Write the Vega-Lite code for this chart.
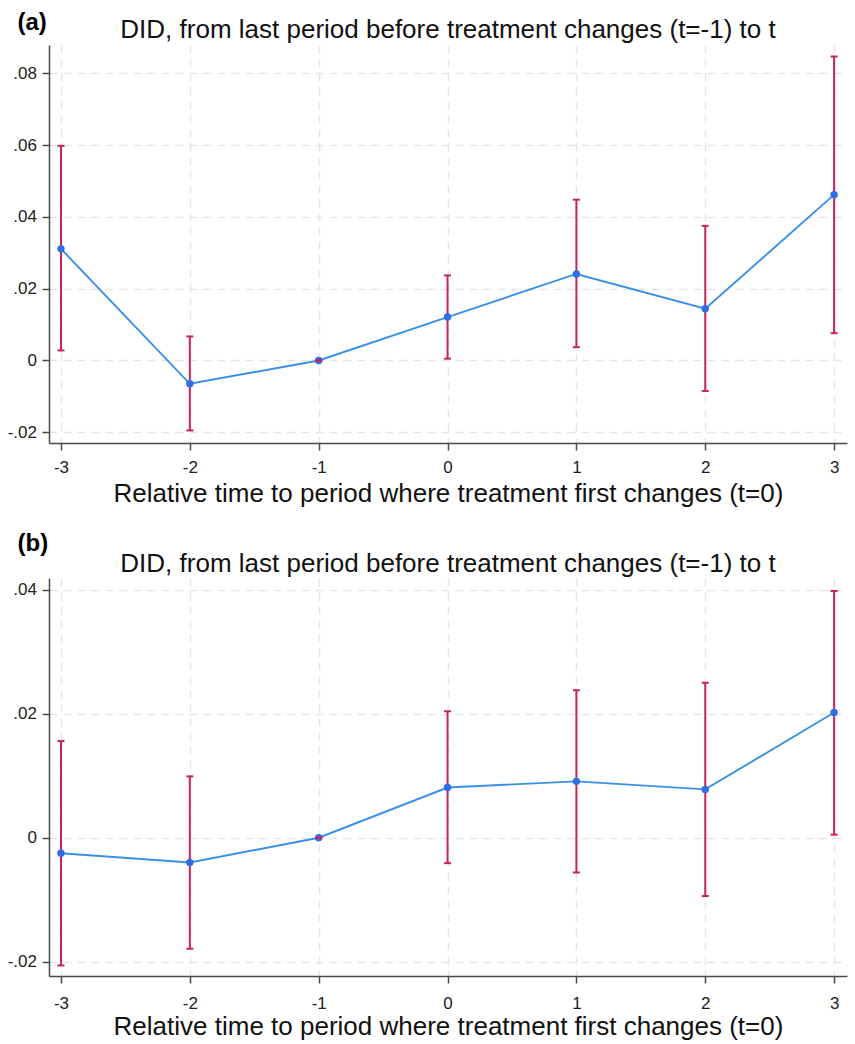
{
  "$schema": "https://vega.github.io/schema/vega-lite/v6.json",
  "background": "white",
  "padding": {"left": 7, "top": 10, "right": 5, "bottom": 5},
  "spacing": 135,
  "bounds": "flush",
  "config": {
    "font": "Liberation Sans",
    "view": {"stroke": null},
    "axis": {
      "domainColor": "#4a4a4a", "domainWidth": 1.5,
      "tickColor": "#4a4a4a", "tickWidth": 1.5, "tickSize": 7,
      "labelFont": "Liberation Sans", "labelFontSize": 17, "labelColor": "#222222",
      "gridColor": "#e6e6e6", "gridDash": [8, 6], "gridWidth": 1.5,
      "titleFont": "Liberation Sans", "titleFontWeight": "normal", "titleColor": "#111111"
    },
    "title": {"font": "Liberation Sans", "fontSize": 26, "fontWeight": "normal", "color": "#111111"}
  },
  "datasets": {
    "did": [
      {"panel": "a", "t": -3, "est": 0.0311, "lo": 0.0028, "hi": 0.0598},
      {"panel": "a", "t": -2, "est": -0.0065, "lo": -0.0195, "hi": 0.0067},
      {"panel": "a", "t": -1, "est": 0.0, "lo": 0.0, "hi": 0.0},
      {"panel": "a", "t": 0, "est": 0.0121, "lo": 0.0005, "hi": 0.0237},
      {"panel": "a", "t": 1, "est": 0.0241, "lo": 0.0037, "hi": 0.0448},
      {"panel": "a", "t": 2, "est": 0.0144, "lo": -0.0085, "hi": 0.0375},
      {"panel": "a", "t": 3, "est": 0.0462, "lo": 0.0076, "hi": 0.0847},
      {"panel": "b", "t": -3, "est": -0.0025, "lo": -0.0206, "hi": 0.0156},
      {"panel": "b", "t": -2, "est": -0.004, "lo": -0.0179, "hi": 0.0099},
      {"panel": "b", "t": -1, "est": 0.0, "lo": 0.0, "hi": 0.0},
      {"panel": "b", "t": 0, "est": 0.0081, "lo": -0.0041, "hi": 0.0204},
      {"panel": "b", "t": 1, "est": 0.0091, "lo": -0.0056, "hi": 0.0238},
      {"panel": "b", "t": 2, "est": 0.0078, "lo": -0.0094, "hi": 0.025},
      {"panel": "b", "t": 3, "est": 0.0202, "lo": 0.0005, "hi": 0.0398}
    ]
  },
  "vconcat": [
    {
      "width": 798, "height": 398,
      "title": {"text": "DID, from last period before treatment changes (t=-1) to t", "anchor": "middle", "frame": "group", "offset": -33},
      "data": {"name": "did"},
      "transform": [{"filter": "datum.panel == 'a'"}],
      "encoding": {
        "x": {"field": "t", "type": "quantitative",
          "scale": {"domain": [-3.093, 3.1], "nice": false, "zero": false},
          "axis": {"values": [-3, -2, -1, 0, 1, 2, 3], "labelExpr": "(datum.value < 0 ? '-' : '') + abs(datum.value)",
            "title": "Relative time to period where treatment first changes (t=0)", "titleFontSize": 26,
            "titleY": 58, "titleBaseline": "alphabetic", "labelPadding": 9}}
      },
      "layer": [
        {"mark": {"type": "rule", "color": "#c8235c", "strokeWidth": 2},
         "encoding": {
           "y": {"field": "lo", "type": "quantitative", "scale": {"domain": [-0.023, 0.0879], "nice": false, "zero": false},
             "axis": {"values": [-0.02, 0, 0.02, 0.04, 0.06, 0.08], "labelPadding": 5.5,
               "labelExpr": "datum.value == 0 ? '0' : (datum.value < 0 ? '-' : '') + replace(format(abs(datum.value), '.2f'), '0.', '.')",
               "title": "(a)", "titleAngle": 0, "titleAlign": "left", "titleBaseline": "alphabetic", "titleX": -32, "titleY": -16,
               "titleFontSize": 24, "titleFontWeight": "bold", "titleColor": "#000000"}},
           "y2": {"field": "hi"}}},
        {"mark": {"type": "line", "color": "#3a8fe8", "strokeWidth": 1.9},
         "encoding": {"y": {"field": "est", "type": "quantitative", "scale": {"domain": [-0.023, 0.0879], "nice": false, "zero": false},
             "axis": {"values": [-0.02, 0, 0.02, 0.04, 0.06, 0.08], "labelPadding": 5.5,
               "labelExpr": "datum.value == 0 ? '0' : (datum.value < 0 ? '-' : '') + replace(format(abs(datum.value), '.2f'), '0.', '.')",
               "title": "(a)", "titleAngle": 0, "titleAlign": "left", "titleBaseline": "alphabetic", "titleX": -32, "titleY": -16,
               "titleFontSize": 24, "titleFontWeight": "bold", "titleColor": "#000000"}}}},
        {"mark": {"type": "circle", "size": 55, "color": "#2e6fe6", "opacity": 1},
         "encoding": {"y": {"field": "est", "type": "quantitative", "scale": {"domain": [-0.023, 0.0879], "nice": false, "zero": false},
             "axis": {"values": [-0.02, 0, 0.02, 0.04, 0.06, 0.08], "labelPadding": 5.5,
               "labelExpr": "datum.value == 0 ? '0' : (datum.value < 0 ? '-' : '') + replace(format(abs(datum.value), '.2f'), '0.', '.')",
               "title": "(a)", "titleAngle": 0, "titleAlign": "left", "titleBaseline": "alphabetic", "titleX": -32, "titleY": -16,
               "titleFontSize": 24, "titleFontWeight": "bold", "titleColor": "#000000"}}}},
        {"mark": {"type": "tick", "orient": "horizontal", "size": 7, "thickness": 2, "color": "#c8235c", "opacity": 1},
         "encoding": {"y": {"field": "lo", "type": "quantitative", "scale": {"domain": [-0.023, 0.0879], "nice": false, "zero": false},
             "axis": {"values": [-0.02, 0, 0.02, 0.04, 0.06, 0.08], "labelPadding": 5.5,
               "labelExpr": "datum.value == 0 ? '0' : (datum.value < 0 ? '-' : '') + replace(format(abs(datum.value), '.2f'), '0.', '.')",
               "title": "(a)", "titleAngle": 0, "titleAlign": "left", "titleBaseline": "alphabetic", "titleX": -32, "titleY": -16,
               "titleFontSize": 24, "titleFontWeight": "bold", "titleColor": "#000000"}}}},
        {"mark": {"type": "tick", "orient": "horizontal", "size": 7, "thickness": 2, "color": "#c8235c", "opacity": 1},
         "encoding": {"y": {"field": "hi", "type": "quantitative", "scale": {"domain": [-0.023, 0.0879], "nice": false, "zero": false},
             "axis": {"values": [-0.02, 0, 0.02, 0.04, 0.06, 0.08], "labelPadding": 5.5,
               "labelExpr": "datum.value == 0 ? '0' : (datum.value < 0 ? '-' : '') + replace(format(abs(datum.value), '.2f'), '0.', '.')",
               "title": "(a)", "titleAngle": 0, "titleAlign": "left", "titleBaseline": "alphabetic", "titleX": -32, "titleY": -16,
               "titleFontSize": 24, "titleFontWeight": "bold", "titleColor": "#000000"}}}}
      ]
    },
    {
      "width": 798, "height": 398,
      "title": {"text": "DID, from last period before treatment changes (t=-1) to t", "anchor": "middle", "frame": "group", "offset": -46},
      "data": {"name": "did"},
      "transform": [{"filter": "datum.panel == 'b'"}],
      "encoding": {
        "x": {"field": "t", "type": "quantitative",
          "scale": {"domain": [-3.093, 3.1], "nice": false, "zero": false},
          "axis": {"values": [-3, -2, -1, 0, 1, 2, 3], "labelExpr": "(datum.value < 0 ? '-' : '') + abs(datum.value)",
            "title": "Relative time to period where treatment first changes (t=0)", "titleFontSize": 26,
            "titleY": 58, "titleBaseline": "alphabetic", "labelPadding": 12}}
      },
      "layer": [
        {"mark": {"type": "rule", "color": "#c8235c", "strokeWidth": 2},
         "encoding": {
           "y": {"field": "lo", "type": "quantitative", "scale": {"domain": [-0.0223, 0.0419], "nice": false, "zero": false},
             "axis": {"values": [-0.02, 0, 0.02, 0.04], "labelPadding": 5.5,
               "labelExpr": "datum.value == 0 ? '0' : (datum.value < 0 ? '-' : '') + replace(format(abs(datum.value), '.2f'), '0.', '.')",
               "title": "(b)", "titleAngle": 0, "titleAlign": "left", "titleBaseline": "alphabetic", "titleX": -32, "titleY": -28,
               "titleFontSize": 24, "titleFontWeight": "bold", "titleColor": "#000000"}},
           "y2": {"field": "hi"}}},
        {"mark": {"type": "line", "color": "#3a8fe8", "strokeWidth": 1.9},
         "encoding": {"y": {"field": "est", "type": "quantitative", "scale": {"domain": [-0.0223, 0.0419], "nice": false, "zero": false},
             "axis": {"values": [-0.02, 0, 0.02, 0.04], "labelPadding": 5.5,
               "labelExpr": "datum.value == 0 ? '0' : (datum.value < 0 ? '-' : '') + replace(format(abs(datum.value), '.2f'), '0.', '.')",
               "title": "(b)", "titleAngle": 0, "titleAlign": "left", "titleBaseline": "alphabetic", "titleX": -32, "titleY": -28,
               "titleFontSize": 24, "titleFontWeight": "bold", "titleColor": "#000000"}}}},
        {"mark": {"type": "circle", "size": 55, "color": "#2e6fe6", "opacity": 1},
         "encoding": {"y": {"field": "est", "type": "quantitative", "scale": {"domain": [-0.0223, 0.0419], "nice": false, "zero": false},
             "axis": {"values": [-0.02, 0, 0.02, 0.04], "labelPadding": 5.5,
               "labelExpr": "datum.value == 0 ? '0' : (datum.value < 0 ? '-' : '') + replace(format(abs(datum.value), '.2f'), '0.', '.')",
               "title": "(b)", "titleAngle": 0, "titleAlign": "left", "titleBaseline": "alphabetic", "titleX": -32, "titleY": -28,
               "titleFontSize": 24, "titleFontWeight": "bold", "titleColor": "#000000"}}}},
        {"mark": {"type": "tick", "orient": "horizontal", "size": 7, "thickness": 2, "color": "#c8235c", "opacity": 1},
         "encoding": {"y": {"field": "lo", "type": "quantitative", "scale": {"domain": [-0.0223, 0.0419], "nice": false, "zero": false},
             "axis": {"values": [-0.02, 0, 0.02, 0.04], "labelPadding": 5.5,
               "labelExpr": "datum.value == 0 ? '0' : (datum.value < 0 ? '-' : '') + replace(format(abs(datum.value), '.2f'), '0.', '.')",
               "title": "(b)", "titleAngle": 0, "titleAlign": "left", "titleBaseline": "alphabetic", "titleX": -32, "titleY": -28,
               "titleFontSize": 24, "titleFontWeight": "bold", "titleColor": "#000000"}}}},
        {"mark": {"type": "tick", "orient": "horizontal", "size": 7, "thickness": 2, "color": "#c8235c", "opacity": 1},
         "encoding": {"y": {"field": "hi", "type": "quantitative", "scale": {"domain": [-0.0223, 0.0419], "nice": false, "zero": false},
             "axis": {"values": [-0.02, 0, 0.02, 0.04], "labelPadding": 5.5,
               "labelExpr": "datum.value == 0 ? '0' : (datum.value < 0 ? '-' : '') + replace(format(abs(datum.value), '.2f'), '0.', '.')",
               "title": "(b)", "titleAngle": 0, "titleAlign": "left", "titleBaseline": "alphabetic", "titleX": -32, "titleY": -28,
               "titleFontSize": 24, "titleFontWeight": "bold", "titleColor": "#000000"}}}}
      ]
    }
  ]
}
